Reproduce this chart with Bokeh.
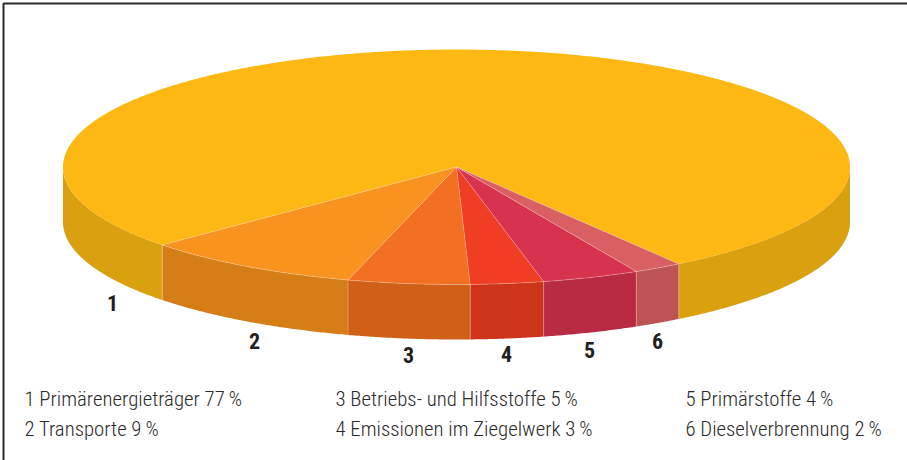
import numpy as np
from bokeh.plotting import figure
from bokeh.models import Range1d
from bokeh.core.properties import value
from bokeh.embed import file_html
from bokeh.resources import INLINE

# data
categories = ["Primärenergieträger", "Transporte", "Betriebs- und Hilfsstoffe",
              "Emissionen im Ziegelwerk", "Primärstoffe", "Dieselverbrennung"]
shares = [77, 9, 5, 3, 4, 2]
numbers = ["1", "2", "3", "4", "5", "6"]
top_colors = ["#FDB813", "#F7931E", "#F36F21", "#EF3E23", "#D7334F", "#D96062"]
side_colors = ["#D9A00F", "#D57E17", "#D06017", "#CC3519", "#B92B43", "#BD5353"]

# layout
W, H = 907, 460
CX, CY, RX, RY, DEPTH = 456, 166.5, 393.5, 117.5, 55
START = 55.6  # parametric angle at which slice 6 starts, screen clockwise
FONT = "Roboto Condensed Light"
BOLD = "Roboto Condensed"
INK = "#2B2A2B"
num_x = [112, 254, 408, 506, 589, 657]
num_y = [302, 340, 354, 353, 349, 340]
leg_x = [24, 24, 335, 335, 685, 685]
leg_y = [398, 428, 398, 428, 398, 428]

p = figure(width=W, height=H, output_backend="svg", toolbar_location=None,
           x_range=Range1d(0, W), y_range=Range1d(H, 0), min_border=0,
           outline_line_color=None, background_fill_color="white")
p.axis.visible = False
p.grid.visible = False
p.styles = {"position": "absolute", "left": "0px", "top": "0px"}


def arc(t0, t1):
    t = np.radians(np.linspace(t0, t1, max(3, int(abs(t1 - t0) * 3))))
    return CX + RX * np.cos(t), CY + RY * np.sin(t)


# slice angle ranges, from the shares
spans = {}
a = START
for i in range(len(shares) - 1, -1, -1):
    b = a + shares[i] * 3.6
    spans[i] = (a, b)
    a = b

# sides
sx, sy, sc = [], [], []
for i, (a0, b0) in spans.items():
    for lo, hi in ((a0, min(b0, 180)), (max(a0, 360), b0)):
        if hi <= lo:
            continue
        x, y = arc(lo, hi)
        sx.append(np.r_[x, x[::-1]].tolist())
        sy.append(np.r_[y, y[::-1] + DEPTH].tolist())
        sc.append(side_colors[i])
p.patches(sx, sy, fill_color=sc, line_color=None)

# tops
tx, ty, tc = [], [], []
for i in range(len(shares)):
    x, y = arc(*spans[i])
    tx.append(np.r_[CX, x].tolist())
    ty.append(np.r_[CY, y].tolist())
    tc.append(top_colors[i])
p.patches(tx, ty, fill_color=tc, line_color=None)

# seams between slices
mx, my = [], []
for i in range(1, len(shares)):
    a0, b0 = spans[i]
    x, y = arc(a0, b0)
    mx.append(x.tolist())
    my.append(y.tolist())
    mx.append([CX, x[-1]])
    my.append([CY, y[-1]])
    mx.append([x[-1], x[-1]])
    my.append([y[-1], y[-1] + DEPTH])
    if i == 5:
        mx.append([CX, x[0]])
        my.append([CY, y[0]])
        mx.append([x[0], x[0]])
        my.append([y[0], y[0] + DEPTH])
p.multi_line(mx, my, line_color="white", line_alpha=0.25, line_width=1)

# frame
p.line([3, 3, W], [H, 3, 3], line_color=INK, line_width=2)

# numbers
p.text(num_x, num_y, text=numbers, text_font=value(BOLD), text_font_style="bold",
       text_font_size="22px", text_color="#231F20", text_align="center", text_baseline="middle")

# legend
legend = [f"{n} {c} {s}\u2009%" for n, c, s in zip(numbers, categories, shares)]
p.text(leg_x, leg_y, text=legend, text_font=value(FONT), text_font_size="20.8px",
       text_color=INK, text_align="left", text_baseline="middle")

open("out.html", "w").write(file_html(p, INLINE))
